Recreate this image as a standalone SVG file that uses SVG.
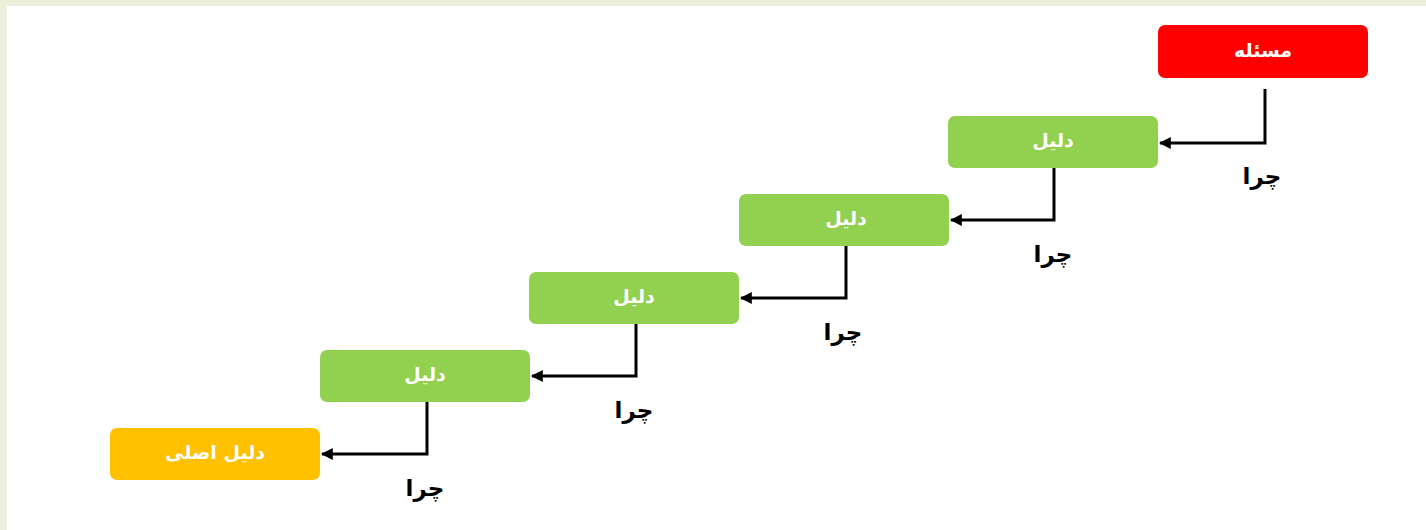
<svg xmlns="http://www.w3.org/2000/svg" width="1426" height="530" viewBox="0 0 1426 530">
  <style>
    .box { stroke: none; }
    .red { fill: #FF0000; }
    .green { fill: #92D050; }
    .yellow { fill: #FFC000; }
    .lbl { font-family: "DejaVu Sans", sans-serif; font-weight: bold; font-size: 19px; fill: #FFFFFF; text-anchor: middle; dominant-baseline: central; }
    .why { font-family: "DejaVu Sans", sans-serif; font-weight: bold; font-size: 23px; fill: #000000; text-anchor: middle; dominant-baseline: central; }
    .link { fill: none; stroke: #000000; stroke-width: 3; marker-end: url(#arrow); }
  </style>
  <defs>
    <marker id="arrow" viewBox="0 0 10 10" refX="9" refY="5" markerWidth="4" markerHeight="4" orient="auto" markerUnits="strokeWidth">
      <path d="M0,0 L10,5 L0,10 z" fill="#000000"/>
    </marker>
  </defs>

  <!-- page background with tinted frame -->
  <rect x="0" y="0" width="1426" height="530" fill="#EBEFDB"/>
  <rect x="7" y="6" width="1419" height="524" fill="#FFFFFF"/>

  <g id="problem">
    <rect class="box red" x="1158" y="25" width="210" height="53" rx="7"/>
    <text class="lbl" x="1263" y="50">مسئله</text>
  </g>
  <g id="reason1">
    <rect class="box green" x="948" y="116" width="210" height="52" rx="7"/>
    <text class="lbl" x="1053" y="140">دلیل</text>
  </g>
  <g id="reason2">
    <rect class="box green" x="739" y="194" width="210" height="52" rx="7"/>
    <text class="lbl" x="846" y="218">دلیل</text>
  </g>
  <g id="reason3">
    <rect class="box green" x="529" y="272" width="210" height="52" rx="7"/>
    <text class="lbl" x="634" y="296">دلیل</text>
  </g>
  <g id="reason4">
    <rect class="box green" x="320" y="350" width="210" height="52" rx="7"/>
    <text class="lbl" x="425" y="374">دلیل</text>
  </g>
  <g id="root-cause">
    <rect class="box yellow" x="110" y="428" width="210" height="52" rx="7"/>
    <text class="lbl" x="215" y="452">دلیل اصلی</text>
  </g>

  <g id="connectors">
    <path class="link" d="M1265,89 V143 H1160"/>
    <path class="link" d="M1054,168 V220 H951"/>
    <path class="link" d="M846,246 V298 H741"/>
    <path class="link" d="M636,324 V376 H532"/>
    <path class="link" d="M427,402 V454 H322"/>
  </g>

  <g id="why-labels">
    <text class="why" x="1262" y="176">چرا</text>
    <text class="why" x="1053" y="254">چرا</text>
    <text class="why" x="843" y="332">چرا</text>
    <text class="why" x="634" y="410">چرا</text>
    <text class="why" x="425" y="488">چرا</text>
  </g>
</svg>
